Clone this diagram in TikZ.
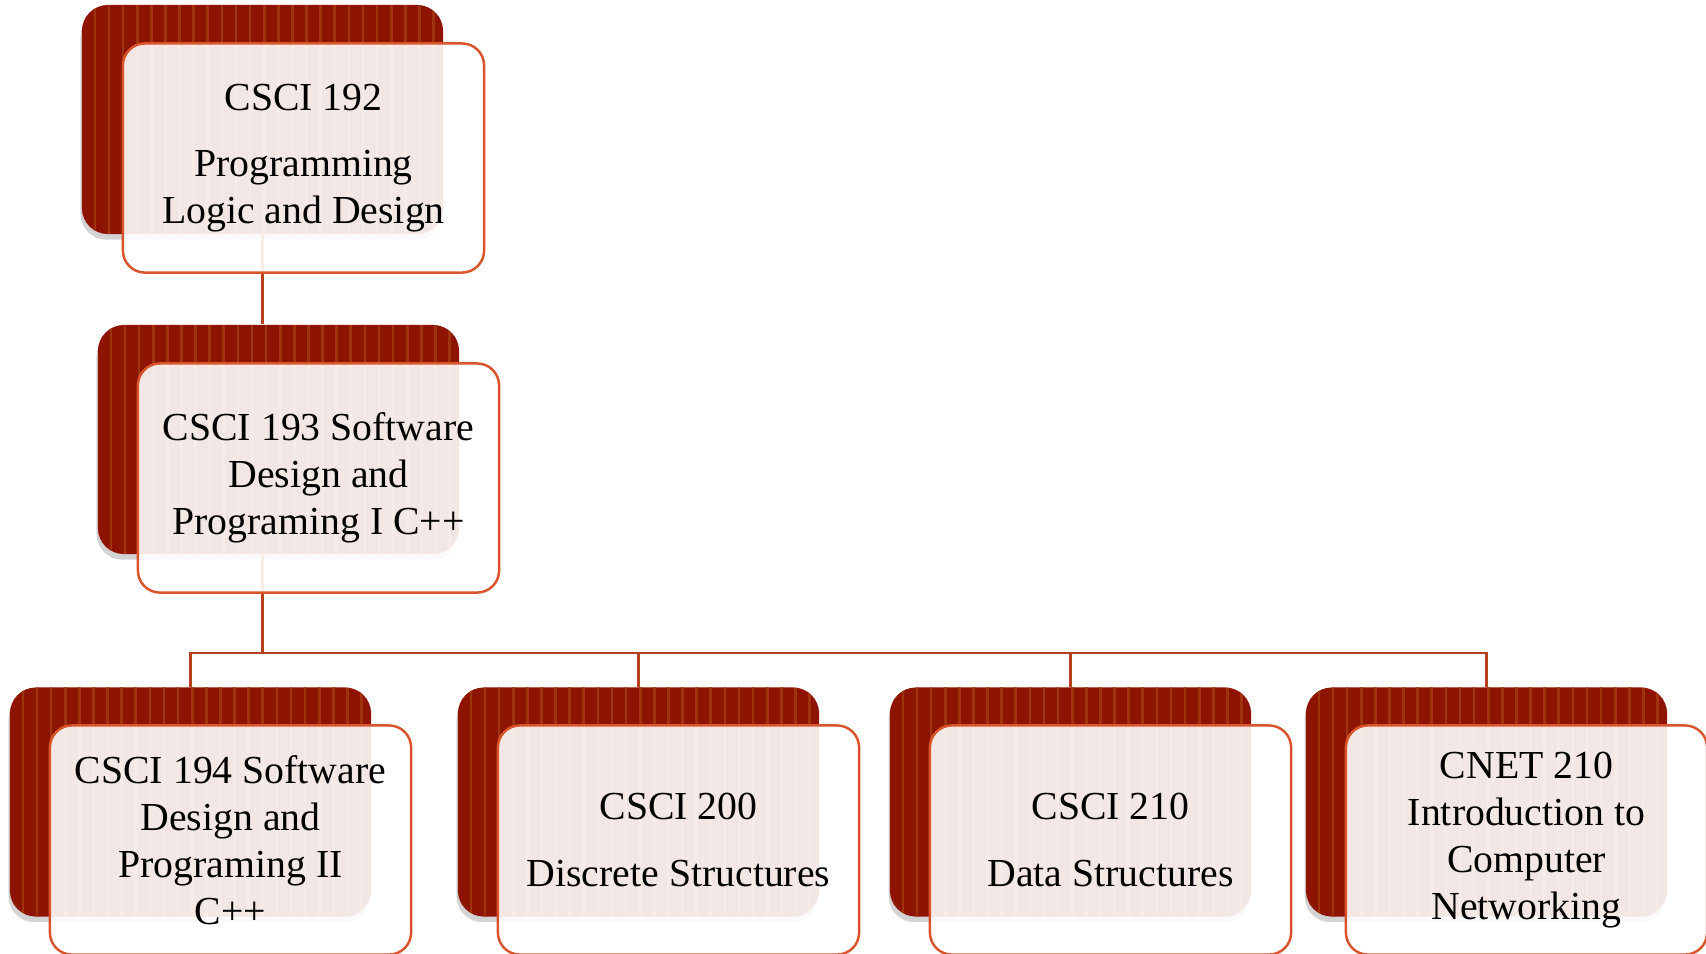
\documentclass[tikz,border=0pt]{standalone}
\usepackage{fontspec}
\setmainfont{Liberation Serif}
\usetikzlibrary{shadows}
\definecolor{darkred}{HTML}{8C1400}
\definecolor{stripered}{HTML}{9E330D}
\definecolor{edgeorange}{HTML}{D9542A}
\definecolor{linkred}{HTML}{B4421C}
\begin{document}
\begin{tikzpicture}[x=0.01cm,y=-0.01cm,
    back/.style={rectangle,rounded corners=0.26cm,fill=darkred,
        minimum width=3.61cm,minimum height=2.29cm,inner sep=0pt,
        drop shadow={shadow xshift=-0.4pt,shadow yshift=-1.6pt,opacity=0.35},
        path picture={
            \foreach \i in {0,...,24}
                \draw[stripered,line width=0.75pt]
                    ([xshift=0.13cm+\i*0.141cm]path picture bounding box.south west) --
                    ([xshift=0.13cm+\i*0.141cm]path picture bounding box.north west);
        }},
    card/.style={rectangle,rounded corners=0.22cm,draw=edgeorange,line width=0.7pt,
        fill=white,fill opacity=0.9,text opacity=1,
        minimum width=3.61cm,minimum height=2.29cm,inner sep=2pt,
        align=center,font=\fontsize{11.3}{13.4}\selectfont},
    link/.style={draw=linkred,line width=0.8pt}]
    \useasboundingbox (0,0) rectangle (1706,953);
    % dark backs
    \node[back] (d192) at (262.5,119.5) {};
    \node[back] (d193) at (278.5,439.5) {};
    \node[back] (d194) at (190.5,802) {};
    \node[back] (d200) at (638.5,802) {};
    \node[back] (d210) at (1070.5,802) {};
    \node[back] (dnet) at (1486.5,802) {};
    % connectors
    \coordinate (bus) at (262.5,653);
    \path[link] (d192.south) -- (d192.south |- d193.north);
    \path[link] (d192.south |- d193.south) -- (bus);
    \path[link] (d194.north) |- (bus) -| (dnet.north);
    \path[link] (d200.north) -- (d200.north |- bus);
    \path[link] (d210.north) -- (d210.north |- bus);
    % cards
    \node[card] (c192) at (303.5,158) {CSCI 192\\[5.5pt]Programming\\Logic and Design};
    \node[card] (c193) at (318.5,478) {CSCI 193 Software\\Design and\\Programing I C++};
    \node[card] (c194) at (230.5,840) {CSCI 194 Software\\Design and\\Programing II\\C++};
    \node[card] (c200) at (678.5,840) {CSCI 200\\[5.5pt]Discrete Structures};
    \node[card] (c210) at (1110.5,840) {CSCI 210\\[5.5pt]Data Structures};
    \node[card] (cnet) at (1526.5,840) {CNET 210\\Introduction to\\Computer\\Networking};
\end{tikzpicture}
\end{document}
